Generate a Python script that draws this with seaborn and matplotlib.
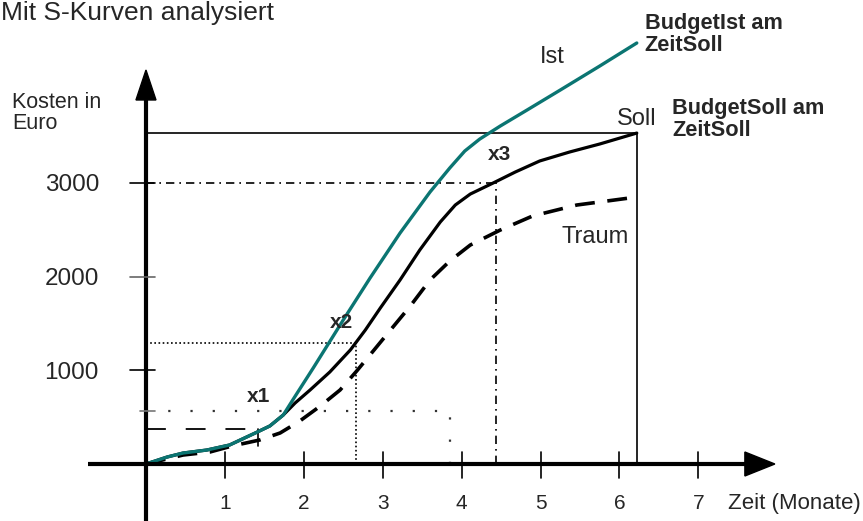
import matplotlib
matplotlib.use("Agg")
import matplotlib.pyplot as plt
import seaborn as sns
from matplotlib.patches import Polygon

# ---------------- data (months, Euro) ----------------
ist_month = [0, 0.27, 0.47, 0.77, 1.06, 1.41, 1.57, 1.74, 1.86, 2.12, 2.50, 2.84, 3.22, 3.60,
             3.85, 4.04, 4.23, 4.49, 4.83, 5.25, 5.75, 6.22]
ist_cost = [0, 75, 117, 149, 203, 341, 406, 523, 683, 1025, 1537, 1985, 2465, 2903,
            3159, 3340, 3468, 3607, 3778, 3991, 4247, 4493]

soll_month = [0, 0.27, 0.47, 0.77, 1.06, 1.41, 1.57, 1.74, 1.89, 2.08, 2.33, 2.59, 2.78, 2.97,
              3.22, 3.47, 3.73, 3.92, 4.11, 4.40, 4.68, 4.99, 5.37, 5.75, 6.22]
soll_cost = [0, 75, 117, 149, 203, 341, 406, 523, 651, 790, 982, 1217, 1430, 1665,
             1964, 2284, 2583, 2764, 2881, 2999, 3116, 3234, 3330, 3415, 3532]

traum_month = [0, 0.47, 0.81, 1.09, 1.44, 1.70, 1.95, 2.21, 2.46, 2.67, 2.88, 3.13, 3.35, 3.60,
               3.85, 4.11, 4.49, 4.90, 5.46, 6.13]
traum_cost = [0, 96, 128, 192, 256, 331, 459, 619, 790, 992, 1206, 1462, 1686, 1964,
              2166, 2337, 2497, 2647, 2764, 2839]

x_ticks = [1, 2, 3, 4, 5, 6, 7]
x_tick_labels = ["1", "2", "3", "4", "5", "6", "7"]
y_ticks = [1000, 2000, 3000]
y_tick_labels = ["1000", "2000", "3000"]

# marker points
budget_soll = 3532      # Soll at end
zeit_soll = 6.22
x1_cost, x1_month = 566, 3.85
x2_cost, x2_month = 1291, 2.66
x3_cost, x3_month = 3000, 4.43
dash_cost, dash_month = 374, 1.42

TEAL = "#0b7572"

sns.set_theme(style="white")
plt.rcParams["font.family"] = ["Liberation Sans", "DejaVu Sans"]

fig = plt.figure(figsize=(8.63, 5.21), dpi=100)
ax = fig.add_axes([0, 0, 1, 1])
ax.set_xlim(-1.850, 9.087)
ax.set_ylim(-608.3, 4952)
ax.set_axis_off()

# ---------- helper reference lines ----------
k = dict(color="black", solid_capstyle="butt")
# Soll rectangle
ax.plot([0, zeit_soll], [budget_soll, budget_soll], lw=1.2, **k)
ax.plot([zeit_soll, zeit_soll], [0, budget_soll], lw=1.2, **k)
# x3 dash-dot
ax.plot([0, x3_month], [x3_cost, x3_cost], lw=1.2, color="black", linestyle=(0, (5, 3, 1, 3)))
ax.plot([x3_month, x3_month], [0, x3_cost], lw=1.2, color="black", linestyle=(0, (5, 3, 1, 3)))
# x2 dense dotted
ax.plot([0, x2_month], [x2_cost, x2_cost], lw=1.2, color="black", linestyle=(0, (1, 1.5)))
ax.plot([x2_month, x2_month], [0, x2_cost], lw=1.2, color="black", linestyle=(0, (1, 1.5)))
# x1 sparse dots
ax.plot([0, x1_month], [x1_cost, x1_cost], lw=1.6, color="#333333", linestyle=(0, (1, 9)))
ax.plot([x1_month, x1_month], [0, x1_cost], lw=1.6, color="#333333", linestyle=(0, (1, 9)))
# short dashed level
ax.plot([0, dash_month], [dash_cost, dash_cost], lw=1.3, color="black", linestyle=(0, (11, 11)))
ax.plot([dash_month, dash_month], [190, dash_cost], lw=1.2, color="black")

# ---------- curves (seaborn) ----------
sns.lineplot(x=traum_month, y=traum_cost, ax=ax, color="black", lw=2.6,
             linestyle=(0, (5.5, 3.5)), legend=False, solid_joinstyle="round")
sns.lineplot(x=soll_month, y=soll_cost, ax=ax, color="black", lw=2.3, legend=False,
             solid_joinstyle="round")
sns.lineplot(x=ist_month, y=ist_cost, ax=ax, color=TEAL, lw=2.4, legend=False,
             solid_joinstyle="round")

# ---------- axes with arrows ----------
ax.plot([-0.735, 7.62], [0, 0], color="black", lw=3.0, solid_capstyle="butt")
ax.add_patch(Polygon([[7.59, 128], [7.97, 0], [7.59, -128]], closed=True, color="black"))
ax.plot([0, 0], [-620, 3890], color="black", lw=3.0, solid_capstyle="butt")
ax.add_patch(Polygon([[-0.127, 3885], [0, 4205], [0.127, 3885]], closed=True, color="black"))

for t, lab in zip(x_ticks, x_tick_labels):
    ax.plot([t, t], [128, -149], color="black", lw=1.2)
    ax.text(t, -480, lab, ha="center", va="baseline", fontsize=15)
ax.text(7.38, -480, "Zeit (Monate)", ha="left", va="baseline", fontsize=16)

tick_cols = {1000: "black", 2000: "#666666", 3000: "black"}
for t, lab in zip(y_ticks, y_tick_labels):
    ax.plot([-0.20, 0.11], [t, t], color=tick_cols[t], lw=1.2)
    ax.text(-0.596, t, lab, ha="right", va="center_baseline", fontsize=17.5)
ax.plot([-0.08, 0.11], [x1_cost, x1_cost], color="#777777", lw=1.2)

# ---------- texts ----------
ax.text(-1.838, 4738, "Mit S-Kurven analysiert", ha="left", va="baseline", fontsize=19)
ax.text(-1.70, 3975, "Kosten in\nEuro", ha="left", va="top", fontsize=15.5, linespacing=1.0)
ax.text(4.99, 4279, "Ist", ha="left", va="baseline", fontsize=17)
ax.text(5.97, 3618, "Soll", ha="left", va="baseline", fontsize=17)
ax.text(5.27, 2359, "Traum", ha="left", va="baseline", fontsize=17)
ax.text(6.32, 4813, "BudgetIst am\nZeitSoll", ha="left", va="top", fontsize=15.7,
        fontweight="bold", linespacing=1.05)
ax.text(6.67, 3906, "BudgetSoll am\nZeitSoll", ha="left", va="top", fontsize=15.7,
        fontweight="bold", linespacing=1.05)
ax.text(1.28, 662, "x1", ha="left", va="baseline", fontsize=15, fontweight="bold")
ax.text(2.33, 1451, "x2", ha="left", va="baseline", fontsize=15, fontweight="bold")
ax.text(4.33, 3244, "x3", ha="left", va="baseline", fontsize=15, fontweight="bold")

fig.savefig("out.png", dpi=100)
